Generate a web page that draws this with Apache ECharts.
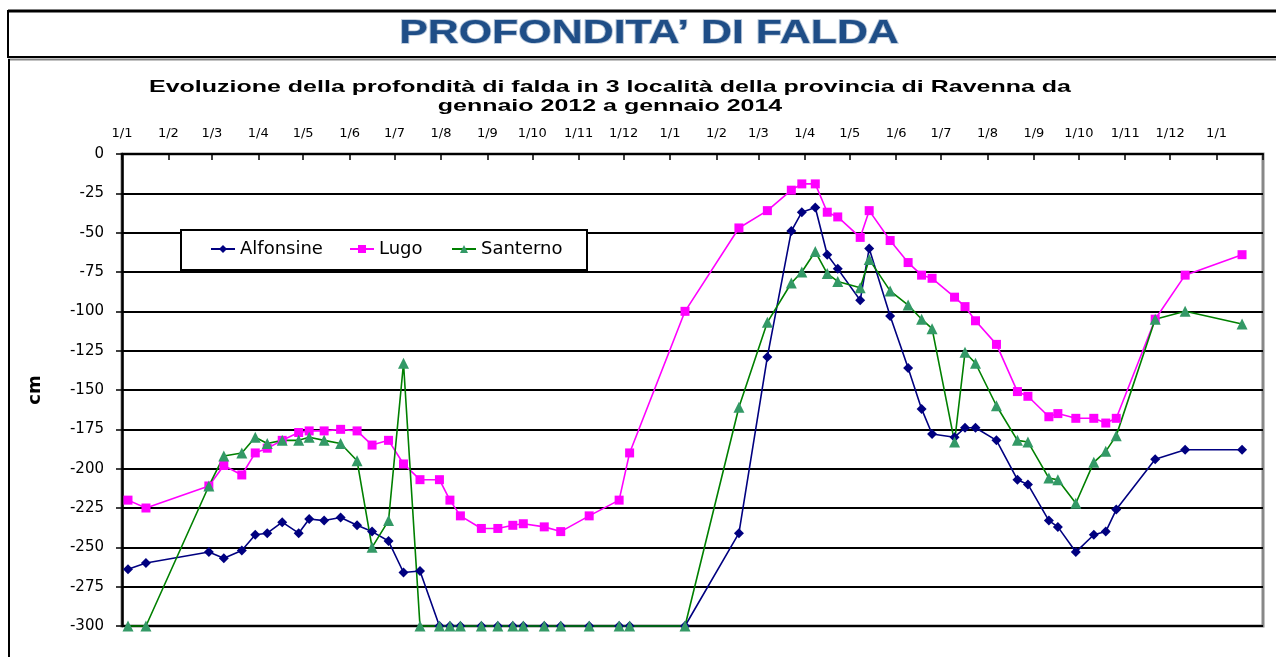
<!DOCTYPE html>
<html>
<head>
<meta charset="utf-8">
<script src="https://cdn.jsdelivr.net/npm/echarts@6/dist/echarts.min.js"></script>
<style>
  html, body { margin: 0; padding: 0; background: #fff; }
  #chart { width: 1276px; height: 657px; }
</style>
</head>
<body>
<div id="chart"></div>
<script>
// survey dates (shared by the three wells)
const dates = [
  '2012-01-05', '2012-01-17', '2012-02-28', '2012-03-09', '2012-03-21', '2012-03-30',
  '2012-04-07', '2012-04-17', '2012-04-28', '2012-05-05', '2012-05-15', '2012-05-26',
  '2012-06-06', '2012-06-16', '2012-06-27', '2012-07-07', '2012-07-18', '2012-07-31',
  '2012-08-07', '2012-08-14', '2012-08-28', '2012-09-08', '2012-09-18', '2012-09-25',
  '2012-10-09', '2012-10-20', '2012-11-08', '2012-11-28', '2012-12-05', '2013-01-11',
  '2013-02-16', '2013-03-07', '2013-03-23', '2013-03-30', '2013-04-08', '2013-04-16',
  '2013-04-23', '2013-05-08', '2013-05-14', '2013-05-28', '2013-06-09', '2013-06-18',
  '2013-06-25', '2013-07-10', '2013-07-17', '2013-07-24', '2013-08-07', '2013-08-21',
  '2013-08-28', '2013-09-11', '2013-09-17', '2013-09-29', '2013-10-11', '2013-10-19',
  '2013-10-26', '2013-11-21', '2013-12-11', '2014-01-18'
]

const alfonsine = [
  -264, -260, -253, -257, -252, -242, -241, -234, -241, -232, -233, -231,
  -236, -240, -246, -266, -265, -300, -300, -300, -300, -300, -300, -300,
  -300, -300, -300, -300, -300, -300, -241, -129, -49, -37, -34, -64,
  -73, -93, -60, -103, -136, -162, -178, -180, -174, -174, -182, -207,
  -210, -233, -237, -253, -242, -240, -226, -194, -188, -188
]

const lugo = [
  -220, -225, -211, -198, -204, -190, -187, -182, -177, -176, -176, -175,
  -176, -185, -182, -197, -207, -207, -220, -230, -238, -238, -236, -235,
  -237, -240, -230, -220, -190, -100, -47, -36, -23, -19, -19, -37,
  -40, -53, -36, -55, -69, -77, -79, -91, -97, -106, -121, -151,
  -154, -167, -165, -168, -168, -171, -168, -105, -77, -64
]

const santerno = [
  -300, -300, -211, -192, -190, -180, -184, -182, -182, -180, -182, -184,
  -195, -250, -233, -133, -300, -300, -300, -300, -300, -300, -300, -300,
  -300, -300, -300, -300, -300, -300, -161, -107, -82, -75, -62, -76,
  -81, -85, -67, -87, -96, -105, -111, -183, -126, -133, -160, -182,
  -183, -206, -207, -222, -196, -189, -179, -105, -100, -108
]

const xMin = '2012-01-01'
const xMax = '2014-02-01'

const chart = echarts.init(document.getElementById('chart'))

const DAY = 24 * 3600 * 1000
const pair = vals => dates.map((d, i) => [d, vals[i]])
const legendText = { fontFamily: 'DejaVu Sans', fontSize: 18, color: '#000' }
const legendBase = { top: 240, itemWidth: 24, itemHeight: 10, itemGap: 0, padding: 0, textStyle: legendText, z: 6 }

const mkSeries = (name, vals, symbol, size, lineColor, markColor) => ({
  name,
  type: 'line',
  data: pair(vals),
  symbol,
  symbolSize: size,
  clip: false,
  lineStyle: { color: lineColor, width: 1.6 },
  itemStyle: { color: markColor },
  emphasis: { disabled: true },
  z: 5
})

chart.setOption({
  animation: false,
  grid: {
    left: 122, right: 13, top: 154, bottom: 31,
    show: true, borderColor: '#888', borderWidth: 3
  },
  graphic: [
    // title frame
    { type: 'line', shape: { x1: 8, y1: 11, x2: 1276, y2: 11 }, style: { stroke: '#000', lineWidth: 3 } },
    { type: 'line', shape: { x1: 8, y1: 10, x2: 8, y2: 58 }, style: { stroke: '#000', lineWidth: 2 } },
    { type: 'line', shape: { x1: 8, y1: 57, x2: 1276, y2: 57 }, style: { stroke: '#000', lineWidth: 2 } },
    { type: 'line', shape: { x1: 8, y1: 59.5, x2: 1276, y2: 59.5 }, style: { stroke: '#888', lineWidth: 2 } },
    { type: 'line', shape: { x1: 9, y1: 59, x2: 9, y2: 657 }, style: { stroke: '#000', lineWidth: 2 } },
    {
      type: 'text', x: 649, y: 34, scaleX: 1.3,
      style: {
        text: 'PROFONDITA\u2019 DI FALDA', fill: '#1F4E87',
        font: 'bold 33px "Liberation Sans", Arial, sans-serif',
        align: 'center', verticalAlign: 'middle',
        stroke: 'rgba(31,78,135,0.35)', lineWidth: 1.5
      }
    },
    {
      type: 'text', x: 610, y: 87, scaleX: 1.47,
      style: {
        text: 'Evoluzione della profondità di falda in 3 località della provincia di Ravenna da',
        fill: '#000', font: 'bold 17px "Liberation Sans", Arial, sans-serif',
        align: 'center', verticalAlign: 'middle'
      }
    },
    {
      type: 'text', x: 610, y: 106, scaleX: 1.47,
      style: {
        text: 'gennaio 2012 a gennaio 2014',
        fill: '#000', font: 'bold 17px "Liberation Sans", Arial, sans-serif',
        align: 'center', verticalAlign: 'middle'
      }
    },
    {
      type: 'text', x: 35, y: 390, rotation: Math.PI / 2,
      style: {
        text: 'cm', fill: '#000', font: 'bold 18px "DejaVu Sans", sans-serif',
        align: 'center', verticalAlign: 'middle'
      }
    },
    // legend frame
    {
      type: 'rect', shape: { x: 181, y: 230, width: 406, height: 40 },
      style: { fill: '#fff', stroke: '#000', lineWidth: 2 }, z: 3
    }
  ],
  legend: [
    { ...legendBase, data: ['Alfonsine'], left: 210 },
    { ...legendBase, data: ['Lugo'], left: 349 },
    { ...legendBase, data: ['Santerno'], left: 451 }
  ],
  xAxis: [
    {
      type: 'time',
      position: 'top',
      min: xMin,
      max: xMax,
      minInterval: 28 * DAY,
      maxInterval: 31 * DAY,
      axisLine: { lineStyle: { color: '#000', width: 2 } },
      axisTick: { inside: true, length: 6, lineStyle: { color: '#000', width: 1.5 } },
      splitLine: { show: false },
      axisLabel: {
        color: '#000', fontFamily: 'DejaVu Sans', fontSize: 13, margin: 14,
        formatter: v => {
          if (v >= new Date(xMax).getTime() - DAY) return ''
          const d = new Date(v)
          return d.getDate() + '/' + (d.getMonth() + 1)
        }
      }
    }
  ],
  yAxis: {
    type: 'value',
    min: -300,
    max: 0,
    interval: 25,
    axisLine: { show: true, lineStyle: { color: '#000', width: 2.5 } },
    axisTick: { show: true, length: 6, lineStyle: { color: '#000', width: 1.5 } },
    splitLine: { show: true, lineStyle: { color: '#000', width: 2 } },
    axisLabel: { color: '#000', fontFamily: 'DejaVu Sans', fontSize: 15, margin: 18 }
  },
  series: [
    mkSeries('Alfonsine', alfonsine, 'diamond', 10, '#000080', '#000080'),
    mkSeries('Lugo', lugo, 'rect', 9, '#FF00FF', '#FF00FF'),
    mkSeries('Santerno', santerno, 'triangle', 11, '#008000', '#339966')
  ]
})
</script>
</body>
</html>
